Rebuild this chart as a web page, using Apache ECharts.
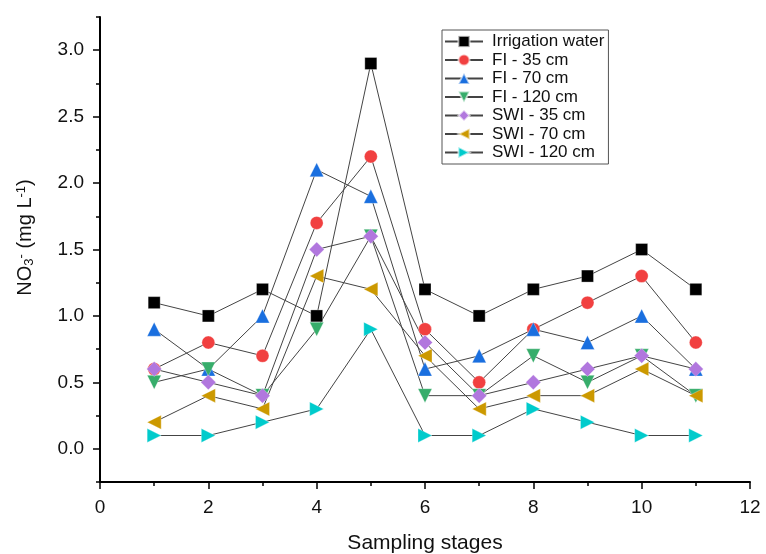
<!DOCTYPE html>
<html><head><meta charset="utf-8">
<script src="https://cdn.jsdelivr.net/npm/echarts@6/dist/echarts.min.js"></script>
<style>html,body{margin:0;padding:0;background:#fff}#c{width:766px;height:554px}</style>
</head><body><div id="c"></div>
<script>
const stages = [1,2,3,4,5,6,7,8,9,10,11];
const irrigation = [1.1,1.0,1.2,1.0,2.9,1.2,1.0,1.2,1.3,1.5,1.2];
const fi35 = [0.6,0.8,0.7,1.7,2.2,0.9,0.5,0.9,1.1,1.3,0.8];
const fi70 = [0.9,0.6,1.0,2.1,1.9,0.6,0.7,0.9,0.8,1.0,0.6];
const fi120 = [0.5,0.6,0.4,0.9,1.6,0.4,0.4,0.7,0.5,0.7,0.4];
const swi35 = [0.6,0.5,0.4,1.5,1.6,0.8,0.4,0.5,0.6,0.7,0.6];
const swi70 = [0.2,0.4,0.3,1.3,1.2,0.7,0.3,0.4,0.4,0.6,0.4];
const swi120 = [0.1,0.1,0.2,0.3,0.9,0.1,0.1,0.3,0.2,0.1,0.1];
const yLabels = [0,0.5,1.0,1.5,2.0,2.5,3.0];

const seriesDefs = [
  {name:'Irrigation water', data:irrigation, color:'#000000', symbol:'rect', rot:0, size:12},
  {name:'FI - 35 cm', data:fi35, color:'#F14040', symbol:'circle', rot:0, size:13},
  {name:'FI - 70 cm', data:fi70, color:'#1A6FDF', symbol:'triangle', rot:0, size:14},
  {name:'FI - 120 cm', data:fi120, color:'#37AD6B', symbol:'triangle', rot:180, size:14},
  {name:'SWI - 35 cm', data:swi35, color:'#B177DE', symbol:'diamond', rot:0, size:15},
  {name:'SWI - 70 cm', data:swi70, color:'#CC9900', symbol:'triangle', rot:90, size:14},
  {name:'SWI - 120 cm', data:swi120, color:'#00CBCC', symbol:'triangle', rot:-90, size:14}
];

const chart = echarts.init(document.getElementById('c'), null, {renderer:'canvas'});
const font = 'Arial, "Liberation Sans", sans-serif';
chart.setOption({
  animation:false,
  backgroundColor:'#fff',
  textStyle:{fontFamily:font},
  grid:{left:100,right:16,top:17,bottom:72,containLabel:false,outerBoundsMode:'none'},
  legend:{
    orient:'vertical', left:442, top:30, padding:[3,4,3,2],
    borderColor:'#555', borderWidth:1, itemWidth:38, itemHeight:14, itemGap:1.5,
    textStyle:{fontSize:17,lineHeight:17,color:'#111',fontFamily:font,padding:[0,0,0,4]},
    data: seriesDefs.map(s=>s.name)
  },
  xAxis:{
    type:'value', min:0, max:12, interval:2,
    name:'Sampling stages', nameLocation:'middle', nameGap:51,
    nameTextStyle:{fontSize:21,color:'#111'},
    axisLine:{onZero:false,lineStyle:{color:'#000',width:2}},
    axisTick:{length:7,lineStyle:{color:'#000',width:1.5}},
    minorTick:{show:true,splitNumber:2,length:4,lineStyle:{color:'#000',width:1.5}},
    axisLabel:{fontSize:19,color:'#111',margin:16},
    splitLine:{show:false}
  },
  yAxis:[{
    type:'value', min:-0.25, max:3.25, interval:0.25,
    name:'{n|NO}{sub|3}{sup|-}{n| (mg L}{sup|-1}{n|)}', nameLocation:'middle', nameGap:64, nameRotate:90,
    nameTextStyle:{padding:[0,0,0,24],rich:{
      n:{fontSize:20,color:'#111',fontFamily:font},
      sub:{fontSize:13,color:'#111',fontFamily:font,verticalAlign:'bottom',padding:[8,0,0,0]},
      sup:{fontSize:13,color:'#111',fontFamily:font,verticalAlign:'top',padding:[0,0,8,0]}
    }},
    axisLine:{show:true,onZero:false,lineStyle:{color:'#000',width:2}},
    axisTick:{show:true,length:7,customValues:yLabels,lineStyle:{color:'#000',width:1.5}},
    axisLabel:{fontSize:19,color:'#111',margin:16,customValues:yLabels,formatter:v=>v.toFixed(1)},
    splitLine:{show:false}
  },{
    type:'value', min:-0.25, max:3.25, interval:0.25, position:'left',
    axisLine:{show:false,onZero:false},
    axisTick:{show:true,length:4,lineStyle:{color:'#000',width:1.5}},
    axisLabel:{show:false},
    splitLine:{show:false}
  }],
  series: seriesDefs.map(s=>({
    name:s.name, type:'line', yAxisIndex:0,
    data: stages.map((x,i)=>[x,s.data[i]]),
    symbol:s.symbol, symbolSize:s.size, symbolRotate:s.rot,
    lineStyle:{color:'#444',width:1},
    itemStyle:{color:s.color,borderColor:'rgba(255,255,255,0.6)',borderWidth:0.5},
    emphasis:{disabled:true}
  }))
});
</script></body></html>
